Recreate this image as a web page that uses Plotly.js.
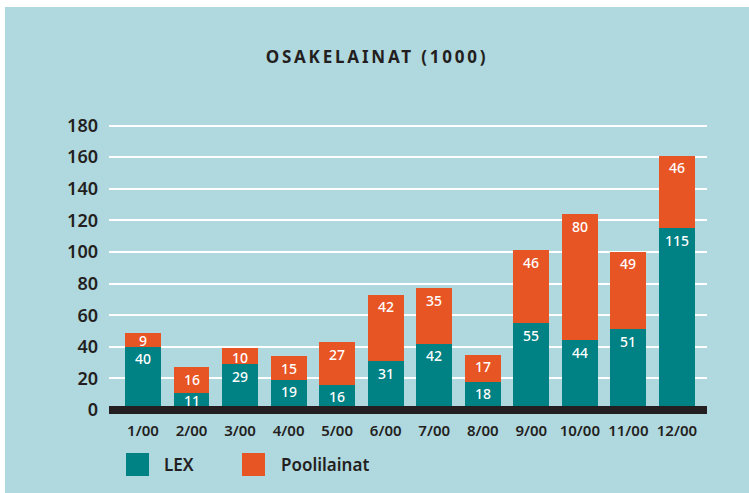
<!DOCTYPE html>
<html>
<head>
<meta charset="utf-8">
<script src="https://cdn.plot.ly/plotly-3.0.1.min.js"></script>
<style>
html, body { margin: 0; padding: 0; background: #ffffff; }
#chart { position: absolute; left: 5px; top: 7px; width: 744px; height: 486px; }
.gtitle { letter-spacing: 2.8px; }
</style>
</head>
<body>
<div id="chart"></div>
<script>
// ---- data ----
const months = ["1/00","2/00","3/00","4/00","5/00","6/00","7/00","8/00","9/00","10/00","11/00","12/00"];
const lexValues = [40, 11, 29, 19, 16, 31, 42, 18, 55, 44, 51, 115];
const pooliValues = [9, 16, 10, 15, 27, 42, 35, 17, 46, 80, 49, 46];
const seriesNames = ["LEX", "Poolilainat"];
const yTicks = [0, 20, 40, 60, 80, 100, 120, 140, 160, 180];
const titleText = "OSAKELAINAT (1000)";

// ---- style ----
const TEAL = "#008183";
const ORANGE = "#e85524";
const BG = "#b0d8df";
const DARK = "#231f20";
const FONT = "Noto Sans, Open Sans, sans-serif";

const W = 744, H = 486;
const M = {l: 104, r: 42, t: 117, b: 83};
const Y_MAX = 181;
const pw = W - M.l - M.r, ph = H - M.t - M.b;
const px = v => (v - M.l) / pw;
const py = v => (H - M.b - v) / ph;
const unitPx = ph / Y_MAX;

const common = {
  type: "bar",
  x: months,
  hoverinfo: "skip",
  showlegend: false
};

const traces = [
  Object.assign({}, common, {name: seriesNames[0], y: lexValues, marker: {color: TEAL}}),
  Object.assign({}, common, {name: seriesNames[1], y: pooliValues, marker: {color: ORANGE}})
];

const annotations = [];
// value labels: placed near the top of each stacked segment
function addLabels(values, bases, hiddenBottomPx) {
  values.forEach((v, i) => {
    const top = bases[i] + v;
    const visiblePx = v * unitPx - hiddenBottomPx;
    const off = Math.min(11, visiblePx / 2);
    annotations.push({
      x: months[i], y: top, xref: "x", yref: "y",
      yanchor: "middle", xanchor: "center", yshift: -off - 1,
      showarrow: false, text: String(v),
      font: {family: FONT, size: 14, color: "#ffffff", weight: 500}
    });
  });
}
addLabels(lexValues, lexValues.map(() => 0), 4);
addLabels(pooliValues, lexValues, 0);

const legendItems = [
  {name: seriesNames[0], color: TEAL, sx: 121, tx: 157},
  {name: seriesNames[1], color: ORANGE, sx: 237, tx: 274}
];

const shapes = [
  {type: "line", xref: "paper", yref: "paper", x0: 0, x1: 1, y0: 0, y1: 0,
   line: {color: DARK, width: 8}, layer: "above"}
];
legendItems.forEach(it => {
  shapes.push({type: "rect", xref: "paper", yref: "paper",
    x0: px(it.sx), x1: px(it.sx + 23), y0: py(446), y1: py(469),
    fillcolor: it.color, line: {width: 0}});
  annotations.push({xref: "paper", yref: "paper", x: px(it.tx), y: py(457.5),
    xanchor: "left", yanchor: "middle", showarrow: false, text: it.name,
    font: {family: FONT, size: 17, color: DARK, weight: 600}});
});

const layout = {
  width: W, height: H,
  margin: M,
  paper_bgcolor: BG, plot_bgcolor: BG,
  barmode: "stack",
  bargap: 0.26,
  title: {text: titleText, x: 0.5, xref: "container", xanchor: "center", y: 1 - 50/H, yanchor: "middle",
          font: {family: FONT, size: 17, color: DARK, weight: 700}},
  xaxis: {
    type: "category", range: [-0.70, 11.62],
    showgrid: false, zeroline: false, showline: false, ticks: "",
    tickfont: {family: FONT, size: 15, color: DARK, weight: 600},
    ticklabelstandoff: 10, fixedrange: true
  },
  yaxis: {
    range: [0, Y_MAX], tickvals: yTicks, ticktext: yTicks.map(String),
    showgrid: true, gridcolor: "#ffffff", gridwidth: 2,
    zeroline: false, showline: false, ticks: "",
    tickfont: {family: FONT, size: 18, color: DARK, weight: 600},
    ticklabelstandoff: 10, fixedrange: true
  },
  shapes: shapes,
  annotations: annotations,
  font: {family: FONT, color: DARK}
};

Plotly.newPlot("chart", traces, layout, {displayModeBar: false, staticPlot: true});
</script>
</body>
</html>
